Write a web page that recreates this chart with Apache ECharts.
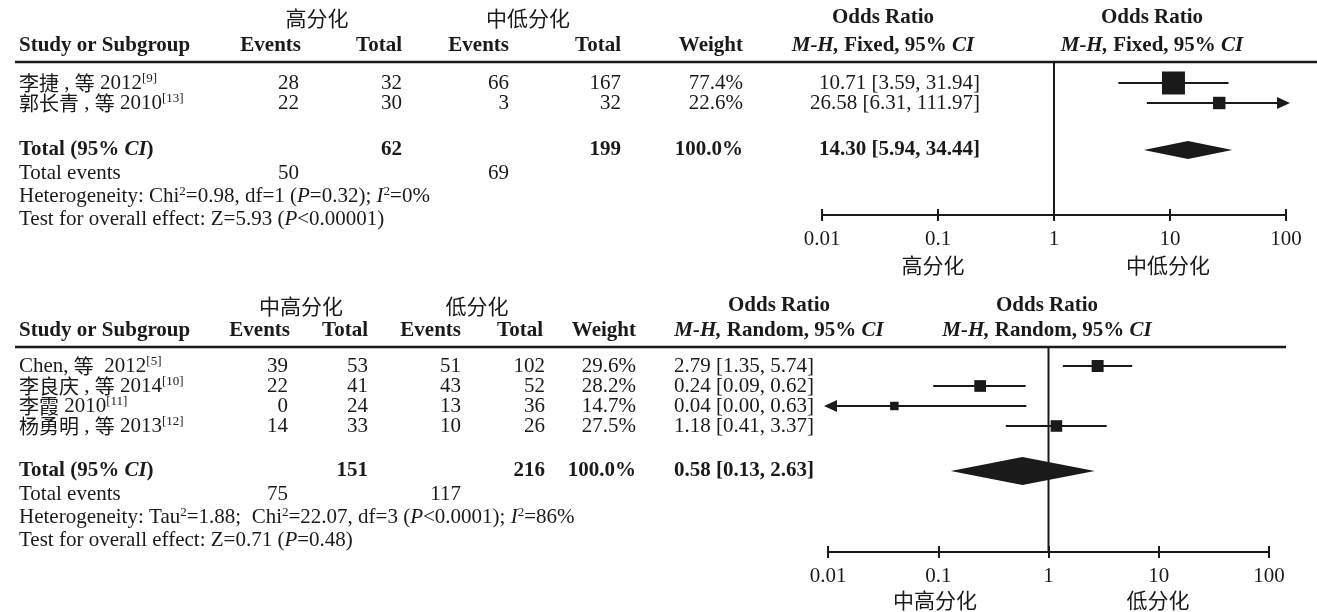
<!DOCTYPE html>
<html>
<head>
<meta charset="utf-8">
<script src="https://cdn.jsdelivr.net/npm/echarts@6.0.0/dist/echarts.min.js"></script>
<style>
  html, body { margin: 0; padding: 0; background: #ffffff; }
  #chart { width: 1317px; height: 612px; }
</style>
</head>
<body>
<div id="chart"></div>
<script>
// ---------- Panel 1: 高分化 vs 中低分化 (fixed effect) ----------
const fixedStudies = ['李捷 , 等 2012', '郭长青 , 等 2010'];
const fixedRefs = ['9', '13'];
const fixedEventsA = [28, 22];
const fixedTotalA = [32, 30];
const fixedEventsB = [66, 3];
const fixedTotalB = [167, 32];
const fixedWeight = [77.4, 22.6];
const fixedOR = [10.71, 26.58];
const fixedLow = [3.59, 6.31];
const fixedHigh = [31.94, 111.97];
const fixedPooled = [14.30, 5.94, 34.44];      // OR, lower, upper
const fixedSumTotals = [62, 199];              // total A, total B
const fixedSumEvents = [50, 69];               // events A, events B
const fixedGroups = ['高分化', '中低分化'];

// ---------- Panel 2: 中高分化 vs 低分化 (random effects) ----------
const randStudies = ['Chen, 等  2012', '李良庆 , 等 2014', '李霞 2010', '杨勇明 , 等 2013'];
const randRefs = ['5', '10', '11', '12'];
const randEventsA = [39, 22, 0, 14];
const randTotalA = [53, 41, 24, 33];
const randEventsB = [51, 43, 13, 10];
const randTotalB = [102, 52, 36, 26];
const randWeight = [29.6, 28.2, 14.7, 27.5];
const randOR = [2.79, 0.24, 0.04, 1.18];
const randLow = [1.35, 0.09, 0.00, 0.41];
const randHigh = [5.74, 0.62, 0.63, 3.37];
const randPooled = [0.58, 0.13, 2.63];
const randSumTotals = [151, 216];
const randSumEvents = [75, 117];
const randGroups = ['中高分化', '低分化'];

// ---------- Axis ticks ----------
const tickValues = [0.01, 0.1, 1, 10, 100];
const tickLabels = ['0.01', '0.1', '1', '10', '100'];

// ---------- Layout ----------
const X_MIN = 0.01, X_MAX = 100;
const SERIF = '"Liberation Serif", "Times New Roman", "Noto Sans CJK SC", serif';
const CJK = '"Noto Sans CJK SC", sans-serif';
const INK = '#1a1a1a';
const FS = 21;

const P1 = {
  rowA: 18, rowB: 46, ruleY: 62, ruleEnd: 1317, axisY: 215,
  firstRow: 83, step: 20, totalY: 150, eventsY: 173, hetY: 196, testY: 219,
  plotLeft: 822, plotRight: 1286, favourY: 265,
  boxMax: 23, diamondHalf: 9
};
const P2 = {
  rowA: 306, rowB: 331, ruleY: 347, ruleEnd: 1286, axisY: 552,
  firstRow: 366, step: 20, totalY: 471, eventsY: 494, hetY: 517, testY: 540,
  plotLeft: 828, plotRight: 1269, favourY: 600,
  boxMax: 12, diamondHalf: 14
};

const RICH = {
  r:  { fontFamily: SERIF, fontSize: FS, fill: INK },
  b:  { fontFamily: SERIF, fontSize: FS, fontWeight: 'bold', fill: INK },
  i:  { fontFamily: SERIF, fontSize: FS, fontStyle: 'italic', fill: INK },
  bi: { fontFamily: SERIF, fontSize: FS, fontStyle: 'italic', fontWeight: 'bold', fill: INK },
  s:  { fontFamily: SERIF, fontSize: 13, fill: INK, verticalAlign: 'top' },
  c:  { fontFamily: CJK, fontSize: 20, fill: INK }
};

function txt(x, y, text, align, weight, family) {
  return {
    type: 'text', x: x, y: y, silent: true,
    style: {
      text: text,
      align: align, textAlign: align,
      verticalAlign: 'middle', textVerticalAlign: 'middle',
      fontFamily: family || SERIF, fontSize: FS,
      fontWeight: weight || 'normal',
      fill: INK, rich: RICH
    }
  };
}
function hline(x1, x2, y, w) {
  return { type: 'line', silent: true, shape: { x1: x1, y1: y, x2: x2, y2: y },
           style: { stroke: INK, lineWidth: w } };
}

// Wraps runs of CJK characters so they use the CJK face at a matching size
function cjkRuns(s) {
  return s.replace(/([\u4e00-\u9fff]+)/g, '{c|$1}');
}

// Table text for one panel
function tableGraphics(P, cols, data) {
  const g = [];
  g.push(txt(cols.groupA, P.rowA, data.groups[0], 'center', 'normal', CJK));
  g.push(txt(cols.groupB, P.rowA, data.groups[1], 'center', 'normal', CJK));
  g.push(txt(cols.orTitle, P.rowA, 'Odds Ratio', 'center', 'bold'));
  g.push(txt(cols.plotTitle, P.rowA, 'Odds Ratio', 'center', 'bold'));
  g.push(txt(19, P.rowB, 'Study or Subgroup', 'left', 'bold'));
  g.push(txt(cols.hEA, P.rowB, 'Events', 'right', 'bold'));
  g.push(txt(cols.hTA, P.rowB, 'Total', 'right', 'bold'));
  g.push(txt(cols.hEB, P.rowB, 'Events', 'right', 'bold'));
  g.push(txt(cols.hTB, P.rowB, 'Total', 'right', 'bold'));
  g.push(txt(cols.hW, P.rowB, 'Weight', 'right', 'bold'));
  const method = '{bi|M-H,}{b| ' + data.method + ', 95% }{bi|CI}';
  g.push(txt(cols.orTitle, P.rowB, method, 'center', 'bold'));
  g.push(txt(cols.plotTitle, P.rowB, method, 'center', 'bold'));
  g.push(hline(15, P.ruleEnd, P.ruleY, 2.5));
  data.studies.forEach(function (name, i) {
    const y = P.firstRow + i * P.step;
    g.push(txt(19, y, cjkRuns(name) + '{s|[' + data.refs[i] + ']}', 'left'));
    g.push(txt(cols.eA, y, String(data.eA[i]), 'right'));
    g.push(txt(cols.tA, y, String(data.tA[i]), 'right'));
    g.push(txt(cols.eB, y, String(data.eB[i]), 'right'));
    g.push(txt(cols.tB, y, String(data.tB[i]), 'right'));
    g.push(txt(cols.w, y, data.w[i].toFixed(1) + '%', 'right'));
    const ci = data.or[i].toFixed(2) + ' [' + data.lo[i].toFixed(2) + ', ' + data.hi[i].toFixed(2) + ']';
    g.push(txt(cols.ci, y, ci, cols.ciAlign));
  });
  g.push(txt(19, P.totalY, '{b|Total (95% }{bi|CI}{b|)}', 'left', 'bold'));
  g.push(txt(cols.tA, P.totalY, String(data.sumTotals[0]), 'right', 'bold'));
  g.push(txt(cols.tB, P.totalY, String(data.sumTotals[1]), 'right', 'bold'));
  g.push(txt(cols.w, P.totalY, '100.0%', 'right', 'bold'));
  const pooled = data.pooled[0].toFixed(2) + ' [' + data.pooled[1].toFixed(2) + ', ' + data.pooled[2].toFixed(2) + ']';
  g.push(txt(cols.ci, P.totalY, pooled, cols.ciAlign, 'bold'));
  g.push(txt(19, P.eventsY, 'Total events', 'left'));
  g.push(txt(cols.eA, P.eventsY, String(data.sumEvents[0]), 'right'));
  g.push(txt(cols.eB, P.eventsY, String(data.sumEvents[1]), 'right'));
  g.push(txt(19, P.hetY, data.het, 'left'));
  g.push(txt(19, P.testY, data.test, 'left'));
  g.push(txt(cols.favA, P.favourY, data.groups[0], 'center', 'normal', CJK));
  g.push(txt(cols.favB, P.favourY, data.groups[1], 'center', 'normal', CJK));
  return g;
}

const graphics = [].concat(
  tableGraphics(P1, {
    groupA: 317, groupB: 528, orTitle: 883, plotTitle: 1152,
    hEA: 301, hTA: 402, hEB: 509, hTB: 621, hW: 743,
    eA: 299, tA: 402, eB: 509, tB: 621, w: 743, ci: 980, ciAlign: 'right',
    favA: 933, favB: 1168
  }, {
    groups: fixedGroups, method: 'Fixed', studies: fixedStudies, refs: fixedRefs,
    eA: fixedEventsA, tA: fixedTotalA, eB: fixedEventsB, tB: fixedTotalB, w: fixedWeight,
    or: fixedOR, lo: fixedLow, hi: fixedHigh, pooled: fixedPooled,
    sumTotals: fixedSumTotals, sumEvents: fixedSumEvents,
    het: 'Heterogeneity: Chi{s|2}=0.98, df=1 ({i|P}=0.32); {i|I}{s|2}=0%',
    test: 'Test for overall effect: Z=5.93 ({i|P}<0.00001)'
  }),
  tableGraphics(P2, {
    groupA: 301, groupB: 477, orTitle: 779, plotTitle: 1047,
    hEA: 290, hTA: 368, hEB: 461, hTB: 543, hW: 636,
    eA: 288, tA: 368, eB: 461, tB: 545, w: 636, ci: 674, ciAlign: 'left',
    favA: 935, favB: 1158
  }, {
    groups: randGroups, method: 'Random', studies: randStudies, refs: randRefs,
    eA: randEventsA, tA: randTotalA, eB: randEventsB, tB: randTotalB, w: randWeight,
    or: randOR, lo: randLow, hi: randHigh, pooled: randPooled,
    sumTotals: randSumTotals, sumEvents: randSumEvents,
    het: 'Heterogeneity: Tau{s|2}=1.88;  Chi{s|2}=22.07, df=3 ({i|P}<0.0001); {i|I}{s|2}=86%',
    test: 'Test for overall effect: Z=0.71 ({i|P}=0.48)'
  })
);

// ---------- Axes ----------
function tickFormatter(v) {
  for (let k = 0; k < tickValues.length; k++) {
    if (Math.abs(Math.log10(v) - Math.log10(tickValues[k])) < 1e-6) return tickLabels[k];
  }
  return '';
}
function makeGrid(P) {
  return { left: P.plotLeft, width: P.plotRight - P.plotLeft, top: P.ruleY, height: P.axisY - P.ruleY };
}
function makeXAxes(P, gi) {
  const base = { type: 'log', logBase: 10, min: X_MIN, max: X_MAX, gridIndex: gi,
                 position: 'bottom', splitLine: { show: false } };
  return [
    Object.assign({}, base, {
      axisLine: { show: true, onZero: false, lineStyle: { color: INK, width: 2 } },
      axisTick: { show: true, inside: false, length: 6, lineStyle: { color: INK, width: 2 } },
      axisLabel: { show: true, margin: 14, color: INK, fontFamily: SERIF, fontSize: FS, formatter: tickFormatter }
    }),
    Object.assign({}, base, {
      axisLine: { show: false, onZero: false },
      axisTick: { show: true, inside: true, length: 6, lineStyle: { color: INK, width: 2 } },
      axisLabel: { show: false }
    })
  ];
}
function makeYAxis(P, gi) {
  return { type: 'value', gridIndex: gi, min: 0, max: P.axisY - P.ruleY, inverse: true, show: false };
}

// ---------- Series ----------
function studyData(P, or, lo, hi, w) {
  const wMax = Math.max.apply(null, w);
  return or.map(function (v, i) {
    return [v, lo[i], hi[i], P.boxMax * Math.sqrt(w[i] / wMax), P.firstRow - P.ruleY + i * P.step];
  });
}
function renderStudy(params, api) {
  const or = api.value(0), lo = api.value(1), hi = api.value(2), box = api.value(3), yv = api.value(4);
  const arrowL = lo < X_MIN, arrowR = hi > X_MAX;
  const pL = api.coord([Math.max(lo, X_MIN), yv]);
  const pR = api.coord([Math.min(hi, X_MAX), yv]);
  const pC = api.coord([or, yv]);
  const y = pC[1];
  const children = [{
    type: 'line',
    shape: { x1: pL[0] + (arrowL ? 8 : 0), y1: y, x2: pR[0] - (arrowR ? 8 : 0), y2: y },
    style: { stroke: INK, lineWidth: 2 }
  }, {
    type: 'rect',
    shape: { x: pC[0] - box / 2, y: y - box / 2, width: box, height: box },
    style: { fill: INK }
  }];
  if (arrowR) children.push({ type: 'polygon',
    shape: { points: [[pR[0] + 4, y], [pR[0] - 9, y - 6], [pR[0] - 9, y + 6]] }, style: { fill: INK } });
  if (arrowL) children.push({ type: 'polygon',
    shape: { points: [[pL[0] - 4, y], [pL[0] + 9, y - 6], [pL[0] + 9, y + 6]] }, style: { fill: INK } });
  return { type: 'group', children: children };
}
function renderDiamond(params, api) {
  const yv = api.value(3), h = api.value(4);
  const c = api.coord([api.value(0), yv]);
  const l = api.coord([api.value(1), yv]);
  const r = api.coord([api.value(2), yv]);
  return { type: 'polygon',
    shape: { points: [[l[0], c[1]], [c[0], c[1] - h], [r[0], c[1]], [c[0], c[1] + h]] },
    style: { fill: INK } };
}
function renderNull(params, api) {
  const top = api.coord([1, api.value(1)]);
  const bot = api.coord([1, api.value(2)]);
  return { type: 'line', shape: { x1: top[0], y1: top[1], x2: bot[0], y2: bot[1] },
           style: { stroke: INK, lineWidth: 2 } };
}
function panelSeries(P, gi, or, lo, hi, w, pooled) {
  const xi = gi * 2;
  return [
    { type: 'custom', xAxisIndex: xi, yAxisIndex: gi, renderItem: renderNull, silent: true,
      clip: false, data: [[1, 0, P.axisY - P.ruleY]] },
    { type: 'custom', xAxisIndex: xi, yAxisIndex: gi, renderItem: renderStudy, silent: true,
      clip: false, data: studyData(P, or, lo, hi, w) },
    { type: 'custom', xAxisIndex: xi, yAxisIndex: gi, renderItem: renderDiamond, silent: true,
      clip: false, data: [[pooled[0], pooled[1], pooled[2], P.totalY - P.ruleY, P.diamondHalf]] }
  ];
}

const chart = echarts.init(document.getElementById('chart'), null, { renderer: 'canvas' });
chart.setOption({
  animation: false,
  backgroundColor: '#ffffff',
  grid: [makeGrid(P1), makeGrid(P2)],
  xAxis: [].concat(makeXAxes(P1, 0), makeXAxes(P2, 1)),
  yAxis: [makeYAxis(P1, 0), makeYAxis(P2, 1)],
  series: [].concat(
    panelSeries(P1, 0, fixedOR, fixedLow, fixedHigh, fixedWeight, fixedPooled),
    panelSeries(P2, 1, randOR, randLow, randHigh, randWeight, randPooled)
  ),
  graphic: graphics
});
</script>
</body>
</html>
